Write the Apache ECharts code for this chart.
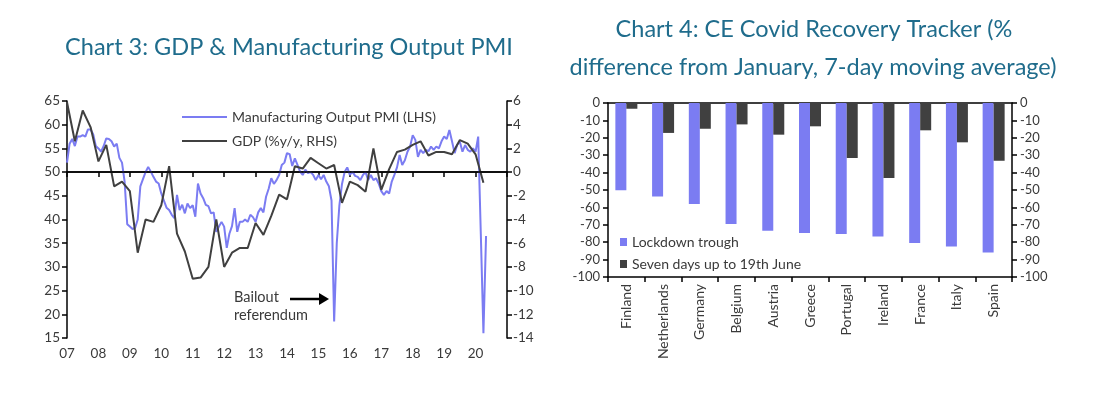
<!DOCTYPE html>
<html><head><meta charset="utf-8">
<script src="https://cdn.jsdelivr.net/npm/echarts@6/dist/echarts.min.js"></script>
<style>html,body{margin:0;padding:0;background:#fff;}#c{width:1108px;height:393px;}</style>
</head><body><div id="c"></div>
<script>
// ---- Chart 3 data ----
const yearLabels = ['07','08','09','10','11','12','13','14','15','16','17','18','19','20'];
const pmiStartYear = 2007; // monthly, from Jan 2007
const pmi = [
  52, 56, 57, 55.5, 57.5, 57.5, 57.8, 57.5, 59, 59, 58, 55.5,
  55, 54.3, 55.5, 57.1, 57, 56.5, 55.4, 56, 53, 52, 48, 39,
  38.5, 38, 38.2, 40, 47, 48.5, 50, 51.1, 50.1, 49, 48, 47.6,
  45.5, 44, 42.5, 42, 41, 40.3, 45.2, 42, 43.1, 41.3, 43.4, 42.4,
  43, 40.6, 47.6, 45.5, 44.5, 43.1, 42.8, 41.3, 41.5, 37.4, 38.5, 39.5,
  38.5, 34, 37, 38.6, 42.4, 37.4, 39.5, 39.5, 40, 39.5, 41, 40.5,
  39.5, 41.5, 42.4, 41.5, 44.8, 46.5, 48.7, 47.5, 48.3, 49.4, 51.5, 52,
  54, 53.8, 51.3, 52.9, 51.5, 50.1, 49.4, 50.5, 49.8, 50, 49.4, 48.3,
  49.4, 48.5, 49.4, 48, 47, 44, 18.5, 35, 43, 47.5, 50, 51,
  49.4, 50.1, 49.2, 49, 48.3, 49.4, 50, 48.3, 49.4, 48.3, 48.7, 47.6,
  46, 45.2, 46, 45.5, 48, 49.4, 51, 53.6, 51.5, 52.5, 54.3, 55.4,
  57.8, 56.8, 53.2, 54.7, 54, 54.7, 54.4, 55.4, 54.7, 55.4, 55, 56.5,
  57.5, 57, 58.9, 56.5, 54, 55.8, 56.4, 54.3, 55.7, 54.7, 54.3, 55,
  54.3, 57.5, 37, 16, 36.5
];
const gdpStartYear = 2007; // quarterly
const gdp = [
  5.9, 2.6, 5.2, 3.8, 0.9, 2.3, -1.2, -0.8, -1.6, -6.8, -4.0, -4.2, -2.8, 0.5,
  -5.2, -6.7, -9.0, -8.9, -8.0, -4.0, -8.0, -6.8, -6.4, -6.4, -4.3, -5.3, -3.7, -1.9,
  -2.3, 0.5, 0.3, 1.2, 0.75, 0.3, 0.6, -2.6, -0.8, -1.1, -1.65, 2.0, -1.5, 0.25,
  1.7, 1.9, 2.3, 2.6, 1.4, 1.7, 1.7, 1.5, 2.7, 2.4, 1.5, -0.9
];
// ---- Chart 4 data ----
const countries = ['Finland','Netherlands','Germany','Belgium','Austria','Greece','Portugal','Ireland','France','Italy','Spain'];
const lockdownTrough = [-50.2, -53.7, -58, -69.5, -73.4, -74.7, -75.3, -76.7, -80.5, -82.4, -85.9];
const sevenDays = [-3.3, -17.2, -14.8, -12.3, -18.2, -13.4, -31.6, -43.1, -15.7, -22.6, -33.2];

const pmiData = pmi.map((v, i) => [pmiStartYear + i / 12, v]);
const gdpData = gdp.map((v, i) => [gdpStartYear + i * 0.25, v]);

const BLUE = '#7b7cf2', DARK = '#404040', TITLE = '#1f6c8c', TXT = '#3a3a3a';
const FONT = 'Lato, "Open Sans", sans-serif';
const axisBase = {
  axisLine: {show: true, lineStyle: {color: '#000', width: 1.5}},
  axisTick: {show: true, length: 5, lineStyle: {color: '#000', width: 1.5}},
  splitLine: {show: false},
};
const chart = echarts.init(document.getElementById('c'));
chart.setOption({
  animation: false,
  textStyle: {fontFamily: FONT},
  grid: [
    {left: 67, top: 101, width: 440, height: 237},
    {left: 608, top: 103, width: 404, height: 174}
  ],
  xAxis: [
    Object.assign({}, axisBase, {gridIndex: 0, type: 'value', min: 2007, max: 2021, interval: 1,
      axisLabel: {formatter: v => yearLabels[Math.round(v) - 2007] || '', color: TXT, fontSize: 13.5, margin: 9, fontFamily: FONT}}),
    Object.assign({}, axisBase, {gridIndex: 1, type: 'category', data: countries, position: 'bottom',
      axisLine: {show: true, onZero: false, lineStyle: {color: '#000', width: 1.5}},
      axisTick: {show: true, length: 5, alignWithLabel: false, lineStyle: {color: '#000', width: 1.5}},
      axisLabel: {rotate: 90, interval: 0, color: TXT, fontSize: 14, margin: 7, fontFamily: FONT}}),
    {gridIndex: 1, type: 'category', data: countries, position: 'top',
      axisLine: {show: true, onZero: false, lineStyle: {color: '#000', width: 1.5}},
      axisTick: {show: false}, axisLabel: {show: false}, splitLine: {show: false}}
  ],
  yAxis: [
    Object.assign({}, axisBase, {gridIndex: 0, type: 'value', position: 'left', min: 15, max: 65, interval: 5,
      axisLabel: {color: TXT, fontSize: 13.5, margin: 7, fontFamily: FONT}}),
    Object.assign({}, axisBase, {gridIndex: 0, type: 'value', position: 'right', min: -14, max: 6, interval: 2,
      axisLabel: {color: TXT, fontSize: 13.5, margin: 6, fontFamily: FONT}}),
    Object.assign({}, axisBase, {gridIndex: 1, type: 'value', position: 'left', min: -100, max: 0, interval: 10,
      axisLabel: {color: TXT, fontSize: 13, margin: 8, fontFamily: FONT}}),
    Object.assign({}, axisBase, {gridIndex: 1, type: 'value', position: 'right', min: -100, max: 0, interval: 10,
      axisLabel: {color: TXT, fontSize: 13, margin: 8, fontFamily: FONT}})
  ],
  legend: [
    {data: ['Manufacturing Output PMI (LHS)', 'GDP (%y/y, RHS)'], orient: 'vertical', left: 177, top: 105,
      icon: 'rect', itemWidth: 45, itemHeight: 2, itemGap: 10, textStyle: {color: TXT, fontSize: 14, fontFamily: FONT}},
    {data: ['Lockdown trough', 'Seven days up to 19th June'], orient: 'vertical', left: 615, top: 230,
      icon: 'rect', itemWidth: 7, itemHeight: 8, itemGap: 8, textStyle: {color: TXT, fontSize: 14, fontFamily: FONT}}
  ],
  series: [
    {name: 'Manufacturing Output PMI (LHS)', type: 'line', xAxisIndex: 0, yAxisIndex: 0, data: pmiData,
      symbol: 'none', lineStyle: {color: BLUE, width: 2}, itemStyle: {color: BLUE}},
    {name: 'GDP (%y/y, RHS)', type: 'line', xAxisIndex: 0, yAxisIndex: 1, data: gdpData,
      symbol: 'none', lineStyle: {color: DARK, width: 2}, itemStyle: {color: DARK}, z: 3,
      markLine: {silent: true, symbol: 'none', label: {show: false},
        lineStyle: {color: '#000', width: 1.5, type: 'solid'}, data: [{yAxis: 0}]}},
    {name: 'Lockdown trough', type: 'bar', xAxisIndex: 1, yAxisIndex: 2, data: lockdownTrough,
      barWidth: 11, barGap: '0%', itemStyle: {color: BLUE}},
    {name: 'Seven days up to 19th June', type: 'bar', xAxisIndex: 1, yAxisIndex: 2, data: sevenDays,
      barWidth: 11, barGap: '0%', itemStyle: {color: DARK}}
  ],
  graphic: [
    {type: 'text', x: 289, y: 47, style: {text: 'Chart 3: GDP & Manufacturing Output PMI', fill: TITLE,
      font: '23.5px ' + FONT, textAlign: 'center', textVerticalAlign: 'middle'}},
    {type: 'text', x: 814, y: 29, style: {text: 'Chart 4: CE Covid Recovery Tracker (%', fill: TITLE,
      font: '23.5px ' + FONT, textAlign: 'center', textVerticalAlign: 'middle'}},
    {type: 'text', x: 813, y: 67, style: {text: 'difference from January, 7-day moving average)', fill: TITLE,
      font: '23.5px ' + FONT, textAlign: 'center', textVerticalAlign: 'middle'}},
    {type: 'text', x: 234, y: 297, style: {text: 'Bailout', fill: TXT, font: '14.5px ' + FONT,
      textAlign: 'left', textVerticalAlign: 'middle'}},
    {type: 'text', x: 234, y: 315, style: {text: 'referendum', fill: TXT, font: '14.5px ' + FONT,
      textAlign: 'left', textVerticalAlign: 'middle'}},
    {type: 'line', shape: {x1: 290, y1: 299, x2: 321, y2: 299}, style: {stroke: '#000', lineWidth: 2.5}},
    {type: 'polygon', shape: {points: [[319, 293], [329, 299], [319, 305]]}, style: {fill: '#000'}}
  ]
});
</script></body></html>
